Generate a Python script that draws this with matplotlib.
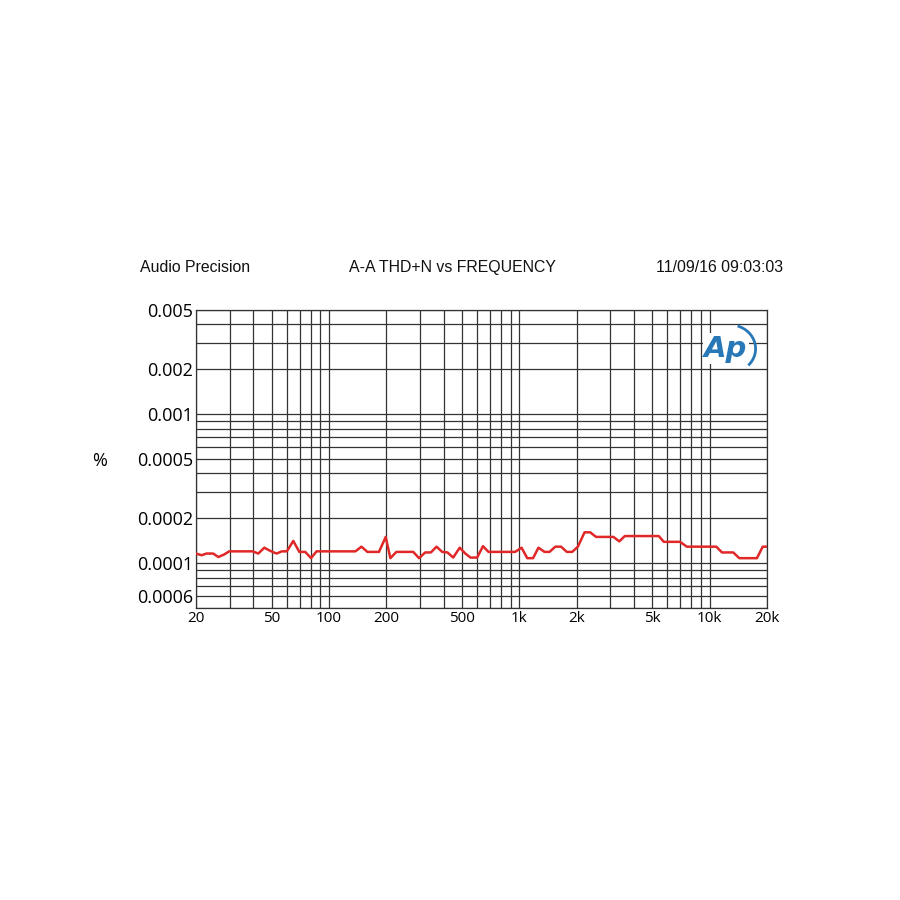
import numpy as np
import matplotlib
matplotlib.use("Agg")
import matplotlib.pyplot as plt
from matplotlib.patches import Arc

# ---- data ----
freq = [20, 21.4, 22.7, 24.6, 26.2, 28.0, 29.9, 39.7, 42.5, 45.7, 49.0, 53.0, 56.5, 60,
        64.9, 69.8, 75, 80.4, 86.0, 137.6, 148, 159, 183, 198.5, 210, 226, 277, 297,
        320, 343, 367, 393, 419, 449, 486, 520, 554, 600, 644, 688, 950, 1027, 1100,
        1180, 1260, 1355, 1440, 1545, 1656, 1775, 1895, 2030, 2200, 2355, 2530, 3120,
        3350, 3580, 5400, 5740, 6990, 7580, 10830, 11600, 13300, 14300, 17700, 19000, 20000]
thd = [0.000116, 0.000113, 0.000116, 0.000116, 0.000110, 0.000114, 0.000120, 0.000120,
       0.000116, 0.000127, 0.000121, 0.000116, 0.000120, 0.000120, 0.000141, 0.000119,
       0.000119, 0.000108, 0.000120, 0.000120, 0.000129, 0.000119, 0.000119, 0.000150,
       0.000108, 0.000119, 0.000119, 0.000108, 0.000118, 0.000118, 0.000129, 0.000119,
       0.000118, 0.000109, 0.000127, 0.000116, 0.000109, 0.000109, 0.000130, 0.000119,
       0.000119, 0.000127, 0.000108, 0.000108, 0.000127, 0.000119, 0.000119, 0.000129,
       0.000129, 0.000119, 0.000119, 0.000129, 0.000161, 0.000161, 0.000150, 0.000150,
       0.000140, 0.000152, 0.000152, 0.000139, 0.000139, 0.000129, 0.000129, 0.000118,
       0.000118, 0.000108, 0.000108, 0.000129, 0.000129]

x_ticks = [20, 50, 100, 200, 500, 1000, 2000, 5000, 10000, 20000]
x_labels = ["20", "50", "100", "200", "500", "1k", "2k", "5k", "10k", "20k"]
y_ticks = [0.005, 0.002, 0.001, 0.0005, 0.0002, 0.0001, 0.00006]
y_labels = ["0.005", "0.002", "0.001", "0.0005", "0.0002", "0.0001", "0.0006"]
x_grid = [20, 30, 40, 50, 60, 70, 80, 90, 100, 200, 300, 400, 500, 600, 700, 800, 900,
          1000, 2000, 3000, 4000, 5000, 6000, 7000, 8000, 9000, 10000, 20000]
y_grid = [0.005, 0.004, 0.003, 0.002, 0.001, 0.0009, 0.0008, 0.0007, 0.0006, 0.0005,
          0.0004, 0.0003, 0.0002, 0.0001, 0.00009, 0.00008, 0.00007, 0.00006, 0.00005]

fig = plt.figure(figsize=(9, 9), dpi=100)
ax = fig.add_axes([196/900, 1-608/900, (767-196)/900, (608-310)/900])
ax.set_xscale("log")
ax.set_yscale("log")
ax.set_xlim(20, 20000)
ax.set_ylim(0.00005, 0.005)

gc = "#333333"
for xv in x_grid:
    ax.axvline(xv, color=gc, lw=0.9, zorder=1)
for yv in y_grid:
    ax.axhline(yv, color=gc, lw=0.9, zorder=1)

ax.plot(freq, thd, color="#e02828", lw=1.8, zorder=3)

ax.xaxis.set_minor_locator(matplotlib.ticker.NullLocator())
ax.yaxis.set_minor_locator(matplotlib.ticker.NullLocator())
ax.set_xticks(x_ticks)
ax.set_xticklabels(x_labels, fontfamily="Open Sans", fontsize=11)
ax.set_yticks(y_ticks)
ax.set_yticklabels(y_labels, fontfamily="Open Sans", fontsize=13)
ax.tick_params(axis="both", length=0, pad=2, colors="black")
for s in ax.spines.values():
    s.set_color(gc)
    s.set_linewidth(0.9)

fig.text(100/900, 1-461/900, "%", fontfamily="Open Sans", fontsize=13,
         ha="center", va="center")
hdr = dict(family="Liberation Sans", fontsize=11.4, va="center", color="#111111")
fig.text(140/900, 1-268/900, "Audio Precision", ha="left", **hdr)
fig.text(452/900, 1-268/900, "A-A THD+N vs FREQUENCY", ha="center", **hdr)
fig.text(783/900, 1-268/900, "11/09/16 09:03:03", ha="right", **hdr)

# AP logo
ax.text(0.928, 0.87, "Ap", transform=ax.transAxes, fontsize=21, fontstyle="italic",
        fontweight="bold", color="#2878b8", ha="center", va="center", zorder=5,
        family="DejaVu Sans",
        bbox=dict(boxstyle="square,pad=0.05", fc="white", ec="none"))
ax.add_patch(Arc((0.935, 0.87), 0.09, 0.16, theta1=-60, theta2=80,
                 transform=ax.transAxes, color="#2878b8", lw=2, zorder=6))

fig.savefig("out.png", dpi=100, facecolor="white")
